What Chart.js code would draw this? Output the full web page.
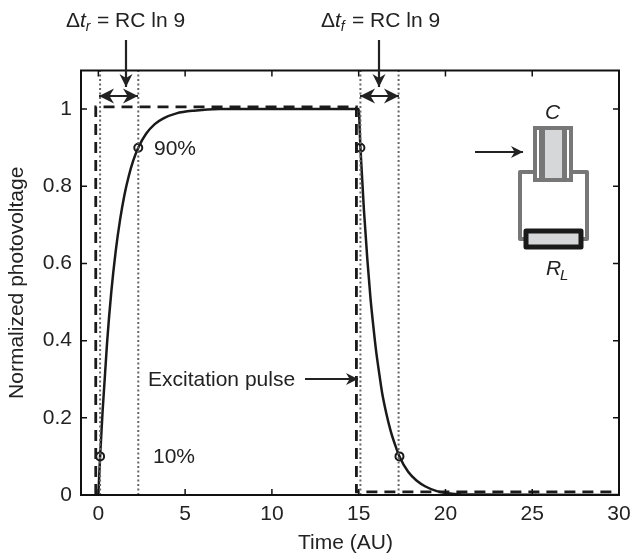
<!DOCTYPE html>
<html>
<head>
<meta charset="utf-8">
<script src="https://cdn.jsdelivr.net/npm/chart.js@4"></script>
<style>
  html, body { margin: 0; padding: 0; background: #fff; }
  canvas { display: block; }
</style>
</head>
<body>
<canvas id="chart" width="631" height="553"></canvas>
<script>
// values
const xTicks = [0, 5, 10, 15, 20, 25, 30];
const yTicks = [0, 0.2, 0.4, 0.6, 0.8, 1];

const responseT = [0, 0.1, 0.25, 0.5, 0.75, 1, 1.25, 1.5, 1.75, 2, 2.3, 2.75, 3.25, 3.75, 4.5, 5.5, 7, 15, 15.1, 15.3, 15.5, 15.68, 15.85, 16, 16.2, 16.35, 16.6, 16.85, 17.1, 17.35, 17.85, 18.35, 18.85, 19.5, 20, 21, 30];
const responseV = [0, 0.1, 0.221, 0.393, 0.528, 0.632, 0.713, 0.777, 0.826, 0.865, 0.9, 0.936, 0.961, 0.976, 0.989, 0.996, 1, 1, 0.9, 0.74, 0.61, 0.51, 0.435, 0.375, 0.31, 0.265, 0.21, 0.165, 0.13, 0.1, 0.06, 0.037, 0.022, 0.01, 0.005, 0.001, 0];

const pulseT = [-0.15, -0.15, 14.87, 14.87, 30];
const pulseV = [0, 1.006, 1.006, 0.008, 0.008];

const markerT = [0.1, 2.3, 15.1, 17.35];
const markerV = [0.1, 0.9, 0.9, 0.1];

const dottedT = [0.1, 2.3, 15.1, 17.3];

const ink = '#222';
const fontSize = 21;
const font = fontSize + 'px "Liberation Sans"';
const italic = 'italic ' + fontSize + 'px "Liberation Sans"';
const italicSmall = 'italic 14px "Liberation Sans"';

function pairs(xs, ys) {
  return xs.map((x, i) => ({ x: x, y: ys[i] }));
}

const dottedSets = dottedT.map(t => ({
  data: [{ x: t, y: 0 }, { x: t, y: 1.1 }],
  borderColor: '#666',
  borderWidth: 2,
  borderDash: [2, 2.5],
  pointRadius: 0
}));

function arrow(ctx, x1, y1, x2, y2, size, both) {
  const a = Math.atan2(y2 - y1, x2 - x1);
  ctx.beginPath();
  ctx.moveTo(x1, y1);
  ctx.lineTo(x2, y2);
  ctx.stroke();
  const heads = both ? [[x2, y2, a], [x1, y1, a + Math.PI]] : [[x2, y2, a]];
  heads.forEach(h => {
    ctx.save();
    ctx.translate(h[0], h[1]);
    ctx.rotate(h[2]);
    ctx.beginPath();
    ctx.moveTo(0, 0);
    ctx.lineTo(-size, -size * 0.5);
    ctx.lineTo(-size * 0.7, 0);
    ctx.lineTo(-size, size * 0.5);
    ctx.closePath();
    ctx.fill();
    ctx.restore();
  });
}

function deltaLabel(ctx, x, y, sub) {
  ctx.font = font;
  ctx.fillText('\u0394', x, y);
  let cx = x + ctx.measureText('\u0394').width;
  ctx.font = italic;
  ctx.fillText('t', cx, y);
  cx += ctx.measureText('t').width;
  ctx.font = italicSmall;
  ctx.fillText(sub, cx, y + 4);
  ctx.font = font;
  ctx.fillText('= RC ln 9', x + 31, y);
}

const decor = {
  id: 'decor',
  afterDraw(chart) {
    const ctx = chart.ctx;
    const a = chart.chartArea;
    const sx = chart.scales.x;
    const sy = chart.scales.y;
    ctx.save();

    // frame and inward ticks
    ctx.strokeStyle = '#111';
    ctx.lineWidth = 2;
    ctx.strokeRect(a.left, a.top, a.right - a.left, a.bottom - a.top);
    ctx.lineWidth = 1.5;
    ctx.beginPath();
    xTicks.forEach(t => {
      const px = sx.getPixelForValue(t);
      ctx.moveTo(px, a.bottom); ctx.lineTo(px, a.bottom - 6);
      ctx.moveTo(px, a.top); ctx.lineTo(px, a.top + 6);
    });
    yTicks.forEach(t => {
      const py = sy.getPixelForValue(t);
      ctx.moveTo(a.left, py); ctx.lineTo(a.left + 6, py);
      ctx.moveTo(a.right, py); ctx.lineTo(a.right - 6, py);
    });
    ctx.stroke();

    // annotations
    ctx.fillStyle = ink;
    ctx.strokeStyle = ink;
    ctx.textBaseline = 'alphabetic';
    ctx.textAlign = 'left';
    deltaLabel(ctx, 66, 27, 'r');
    deltaLabel(ctx, 321, 27, 'f');
    ctx.font = font;
    ctx.fillText('90%', 154, 155);
    ctx.fillText('10%', 153, 463);
    ctx.fillText('Excitation pulse', 148, 386);
    // the x title sits a little left of the plot centre in the original
    ctx.fillText('Time (AU)', 298, 549);

    ctx.lineWidth = 2.2;
    arrow(ctx, 126, 40, 126, 87, 13, false);
    arrow(ctx, 379, 40, 379, 87, 13, false);
    ctx.lineWidth = 2;
    arrow(ctx, 99, 96, 138, 96, 15, true);
    arrow(ctx, 360, 96, 399, 96, 15, true);
    arrow(ctx, 305, 379, 358, 379, 12, false);
    arrow(ctx, 475, 152, 523, 152, 12, false);

    // circuit sketch
    ctx.lineJoin = 'round';
    ctx.strokeStyle = '#777';
    ctx.lineWidth = 4;
    ctx.strokeRect(520, 172, 67, 67);
    ctx.fillStyle = '#777';
    ctx.fillRect(533, 126, 40, 56);
    ctx.fillStyle = '#fff';
    ctx.fillRect(537, 130, 2, 48);
    ctx.fillRect(567, 130, 2, 48);
    ctx.fillStyle = '#d6d7d9';
    ctx.fillRect(545, 130, 17, 48);
    ctx.fillRect(526, 231, 55, 16);
    ctx.strokeStyle = '#1a1a1a';
    ctx.lineWidth = 5;
    ctx.strokeRect(526, 231, 55, 16);

    ctx.fillStyle = ink;
    ctx.font = 'italic 21px "Liberation Sans"';
    ctx.fillText('C', 545, 119);
    ctx.fillText('R', 546, 275);
    ctx.font = 'italic 15px "Liberation Sans"';
    ctx.fillText('L', 560, 280);
    ctx.restore();
  }
};

new Chart(document.getElementById('chart'), {
  type: 'scatter',
  plugins: [decor],
  data: {
    datasets: [
      ...dottedSets,
      {
        data: pairs(pulseT, pulseV),
        borderColor: '#1a1a1a',
        borderWidth: 2.8,
        borderDash: [11, 7],
        pointRadius: 0
      },
      {
        data: pairs(responseT, responseV),
        borderColor: '#1a1a1a',
        borderWidth: 2.5,
        cubicInterpolationMode: 'monotone',
        pointRadius: 0
      },
      {
        data: pairs(markerT, markerV),
        showLine: false,
        pointRadius: 4,
        pointBorderWidth: 2,
        pointBorderColor: '#1a1a1a',
        pointBackgroundColor: 'rgba(0,0,0,0)'
      }
    ].map(d => ({ showLine: true, fill: false, ...d }))
  },
  options: {
    responsive: false,
    animation: false,
    layout: { padding: { top: 70.5, right: 12, bottom: 0, left: 0 } },
    plugins: { legend: { display: false }, tooltip: { enabled: false } },
    scales: {
      x: {
        type: 'linear',
        min: -1,
        max: 30,
        afterBuildTicks(scale) { scale.ticks = xTicks.map(v => ({ value: v })); },
        afterFit(scale) { scale.height = 58; scale.paddingLeft = 0; scale.paddingRight = 0; },
        grid: { display: false, drawTicks: false },
        border: { display: false },
        ticks: { color: ink, font: { size: fontSize, family: 'Liberation Sans' }, padding: 7, maxRotation: 0, autoSkip: false, callback: v => String(v) }
      },
      y: {
        type: 'linear',
        min: 0,
        max: 1.1,
        afterBuildTicks(scale) { scale.ticks = yTicks.map(v => ({ value: v })); },
        afterFit(scale) { scale.width = 81; scale.paddingTop = 0; scale.paddingBottom = 0; },
        grid: { display: false, drawTicks: false },
        border: { display: false },
        ticks: { color: ink, font: { size: fontSize, family: 'Liberation Sans' }, padding: 9, autoSkip: false, callback: v => String(v) },
        title: { display: true, text: 'Normalized photovoltage', color: ink, font: { size: fontSize, family: 'Liberation Sans' }, padding: { top: 5, bottom: 0 } }
      }
    }
  }
});
</script>
</body>
</html>
